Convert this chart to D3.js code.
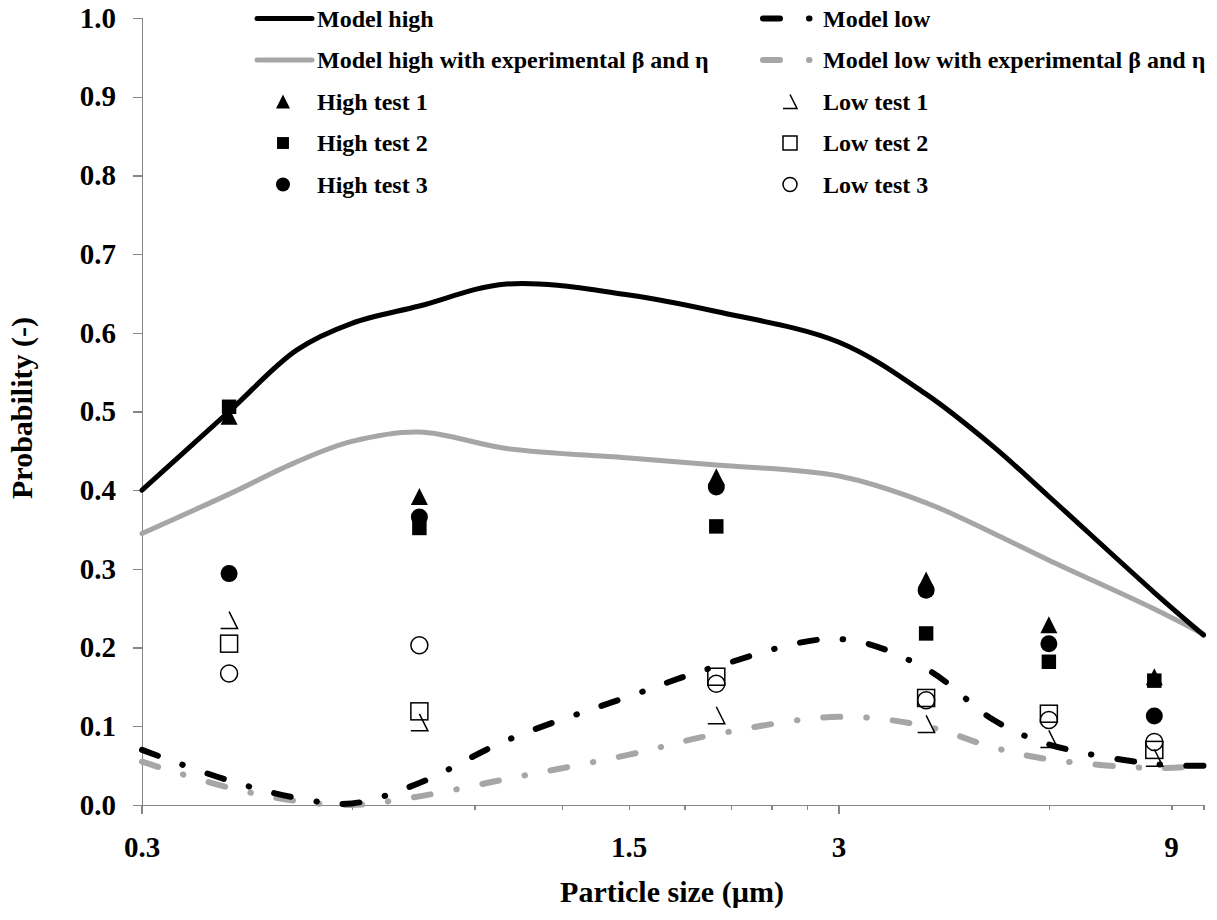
<!DOCTYPE html>
<html>
<head>
<meta charset="utf-8">
<script src="https://cdn.jsdelivr.net/npm/d3@7"></script>
<style>
  body { margin: 0; background: #fff; }
  svg text { font-family: "Liberation Serif", "Times New Roman", serif; font-weight: bold; fill: #000; }
  .axis path, .axis line { stroke: #868686; stroke-width: 1.3; shape-rendering: crispEdges; }
</style>
</head>
<body>
<svg id="chart" width="1217" height="920"></svg>
<script>
// ---- data ----
const modelSizes   = [0.3, 0.4, 0.5, 0.6, 0.75, 1, 1.5, 2, 3, 4, 5, 6, 8.5, 10];
const modelHigh    = [0.400, 0.500, 0.578, 0.612, 0.634, 0.662, 0.648, 0.627, 0.588, 0.522, 0.455, 0.392, 0.270, 0.216];
const modelHighExp = [0.345, 0.395, 0.436, 0.462, 0.474, 0.453, 0.441, 0.432, 0.418, 0.384, 0.345, 0.311, 0.249, 0.217];
const modelLow     = [0.070, 0.031, 0.009, 0.002, 0.028, 0.082, 0.138, 0.176, 0.211, 0.173, 0.108, 0.077, 0.052, 0.050];
const modelLowExp  = [0.055, 0.022, 0.005, 0.000, 0.011, 0.033, 0.064, 0.090, 0.112, 0.100, 0.073, 0.058, 0.047, 0.050];

const testSizes = [0.4, 0.75, 2, 4, 6, 8.5];
const highTest1 = [0.494, 0.392, 0.417, 0.286, 0.229, 0.163];
const highTest2 = [0.506, 0.352, 0.354, 0.218, 0.182, 0.158];
const highTest3 = [0.294, 0.366, 0.404, 0.273, 0.205, 0.113];
const lowTest1  = [0.235, 0.105, 0.114, 0.103, 0.084, 0.060];
const lowTest2  = [0.205, 0.119, 0.163, 0.136, 0.116, 0.070];
const lowTest3  = [0.167, 0.203, 0.154, 0.133, 0.108, 0.080];

const xTickLabels = [0.3, 1.5, 3, 9];
const xMajorTicks = [0.3, 3];
const xMinorTicks = [0.6, 0.9, 1.2, 1.5, 1.8, 2.1, 2.4, 2.7, 6, 9, 10];
const yTicks = d3.range(0, 11).map(d => d / 10);

const GREY = "#a6a6a6";

// ---- scales ----
const svg = d3.select("#chart");
const x = d3.scaleLog().domain([0.3, 10]).range([142, 1203.5]);
const y = d3.scaleLinear().domain([0, 1]).range([805, 18]);

// ---- axes ----
svg.append("g").attr("class", "axis").attr("transform", "translate(142,0)")
  .call(d3.axisLeft(y).tickValues(yTicks).tickSize(9).tickPadding(17).tickFormat(d3.format(".1f")))
  .call(g => g.selectAll("text").style("font-size", "29px").attr("font-family", null));

const xg = svg.append("g").attr("class", "axis").attr("transform", "translate(0,805)");
xg.call(d3.axisBottom(x).tickValues(xMinorTicks).tickSize(5).tickSizeOuter(0).tickFormat(""));
xg.selectAll(".major").data(xMajorTicks).join("line").attr("class", "major")
  .attr("x1", d => x(d)).attr("x2", d => x(d)).attr("y1", 0).attr("y2", 9);

svg.append("g").selectAll("text").data(xTickLabels).join("text")
  .attr("x", d => x(d)).attr("y", 857).attr("text-anchor", "middle")
  .style("font-size", "29px").text(d => d);

svg.append("text").attr("x", 672).attr("y", 902).attr("text-anchor", "middle")
  .style("font-size", "30px").text("Particle size (µm)");
svg.append("text").attr("transform", "translate(32,408) rotate(-90)").attr("text-anchor", "middle")
  .style("font-size", "30px").text("Probability (-)");

// ---- model curves ----
const line = d3.line().x(d => x(d[0])).y(d => y(d[1])).curve(d3.curveCatmullRom.alpha(0.5));
const dashDot = "17,26,0.5,26";
const curves = [
  { v: modelHighExp, color: GREY, w: 5, dash: null },
  { v: modelHigh, color: "#000", w: 5, dash: null },
  { v: modelLowExp, color: GREY, w: 6, dash: dashDot },
  { v: modelLow, color: "#000", w: 6, dash: dashDot }
];
svg.append("g").selectAll("path").data(curves).join("path")
  .attr("d", c => line(modelSizes.map((s, i) => [s, c.v[i]])))
  .attr("fill", "none").attr("stroke", c => c.color).attr("stroke-width", c => c.w)
  .attr("stroke-linecap", "round").attr("stroke-linejoin", "round")
  .attr("stroke-dasharray", c => c.dash);

// ---- markers ----
function marker(g, kind, s) {
  const h = s / 2;
  if (kind === "tri") g.append("path").attr("d", `M0,${-h}L${h},${h}L${-h},${h}Z`).attr("fill", "#000");
  if (kind === "sq") g.append("rect").attr("x", -h * 0.85).attr("y", -h * 0.85).attr("width", s * 0.85).attr("height", s * 0.85).attr("fill", "#000");
  if (kind === "circ") g.append("circle").attr("r", h).attr("fill", "#000");
  if (kind === "otri") g.append("path").attr("d", `M0,${-h}L${h},${h}L${-h},${h}`).attr("fill", "none").attr("stroke", "#000").attr("stroke-width", 1.5);
  if (kind === "osq") g.append("rect").attr("x", -h).attr("y", -h).attr("width", s).attr("height", s).attr("fill", "none").attr("stroke", "#000").attr("stroke-width", 1.5);
  if (kind === "ocirc") g.append("circle").attr("r", h).attr("fill", "none").attr("stroke", "#000").attr("stroke-width", 1.5);
}

const tests = [
  { v: lowTest1, kind: "otri" }, { v: lowTest2, kind: "osq" }, { v: lowTest3, kind: "ocirc" },
  { v: highTest1, kind: "tri" }, { v: highTest2, kind: "sq" }, { v: highTest3, kind: "circ" }
];
tests.forEach(t => {
  svg.append("g").selectAll("g").data(testSizes.map((s, i) => [s, t.v[i]])).join("g")
    .attr("transform", d => `translate(${x(d[0])},${y(d[1])})`)
    .each(function() { marker(d3.select(this), t.kind, 17); });
});

// ---- legend ----
const legendLeft = [
  { label: "Model high", color: "#000", type: "line" },
  { label: "Model high with experimental β and η", color: GREY, type: "line" },
  { label: "High test 1", type: "tri" },
  { label: "High test 2", type: "sq" },
  { label: "High test 3", type: "circ" }
];
const legendRight = [
  { label: "Model low", color: "#000", type: "dash" },
  { label: "Model low with experimental β and η", color: GREY, type: "dash" },
  { label: "Low test 1", type: "otri" },
  { label: "Low test 2", type: "osq" },
  { label: "Low test 3", type: "ocirc" }
];
function legend(items, x0, mx, tx) {
  items.forEach((it, i) => {
    const cy = 18.5 + 41.5 * i;
    const g = svg.append("g");
    if (it.type === "line") {
      g.append("line").attr("x1", x0).attr("x2", x0 + 55).attr("y1", cy).attr("y2", cy)
        .attr("stroke", it.color).attr("stroke-width", 5).attr("stroke-linecap", "round");
    } else if (it.type === "dash") {
      g.append("line").attr("x1", x0).attr("x2", x0 + 50).attr("y1", cy).attr("y2", cy)
        .attr("stroke", it.color).attr("stroke-width", 6).attr("stroke-linecap", "round")
        .attr("stroke-dasharray", "17,29,0.5,100");
    } else {
      marker(g.append("g").attr("transform", `translate(${mx},${cy})`), it.type, 14);
    }
    g.append("text").attr("x", tx).attr("y", cy + 8).style("font-size", "24px").text(it.label);
  });
}
legend(legendLeft, 257, 283, 317);
legend(legendRight, 763, 790, 823);
</script>
</body>
</html>
